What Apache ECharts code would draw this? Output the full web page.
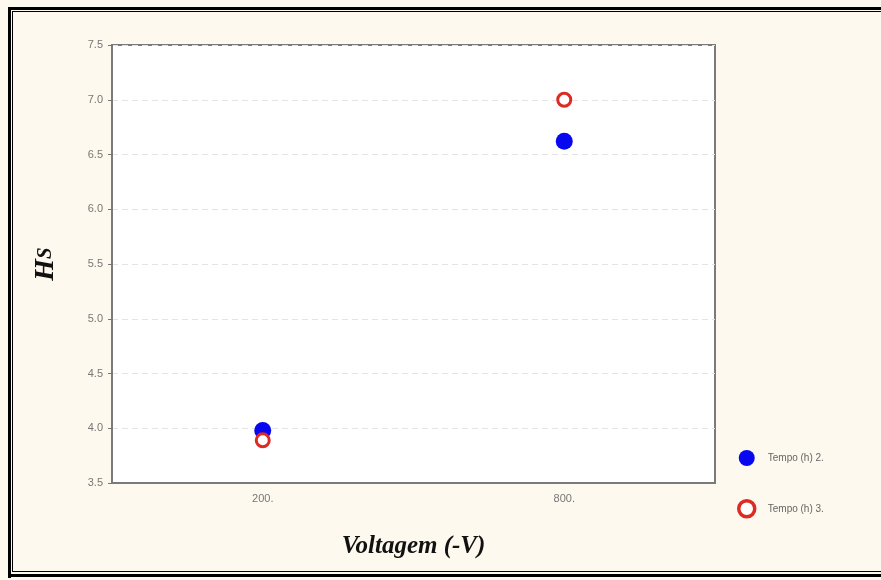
<!DOCTYPE html>
<html>
<head>
<meta charset="utf-8">
<script src="https://cdn.jsdelivr.net/npm/echarts@6/dist/echarts.min.js"></script>
<style>
  html, body { margin: 0; padding: 0; background: #fef9ee; }
  #chart { width: 881px; height: 580px; }
  .frame { position: absolute; pointer-events: none; }
</style>
</head>
<body>
<div id="chart"></div>
<script>
// categories (voltagem) and values (Hs) per series
const voltagens = ['200.', '800.'];
const tempo2 = [3.98, 6.62];
const tempo3 = [3.89, 7.0];
const seriesNames = ['Tempo (h) 2.', 'Tempo (h) 3.'];

const chart = echarts.init(document.getElementById('chart'));

chart.setOption({
  backgroundColor: '#fef9ee',
  animation: false,
  grid: {
    left: 112, top: 45, right: 166, bottom: 97,
    show: true,
    backgroundColor: '#ffffff',
    borderColor: '#7a7a7a',
    borderWidth: 2
  },
  legend: {
    orient: 'vertical',
    left: 732,
    top: 445,
    itemGap: 33,
    itemWidth: 16,
    itemHeight: 16,
    textStyle: { color: '#666', fontSize: 10, fontFamily: 'Liberation Sans', padding: [0, 0, 4, 8] },
    data: [
      { name: seriesNames[0] },
      { name: seriesNames[1], itemStyle: { color: '#ffffff', borderColor: '#dd2a22', borderWidth: 3.5 } }
    ]
  },
  xAxis: {
    type: 'category',
    data: voltagens,
    boundaryGap: true,
    name: 'Voltagem (-V)',
    nameLocation: 'middle',
    nameGap: 51,
    nameTextStyle: {
      fontFamily: 'Liberation Serif', fontStyle: 'italic', fontWeight: 'bold',
      fontSize: 25, color: '#111'
    },
    axisLine: { lineStyle: { color: '#7a7a7a', width: 2 } },
    axisTick: { alignWithLabel: true, length: 4, lineStyle: { color: '#777' } },
    axisLabel: { color: '#777', fontSize: 11, fontFamily: 'Liberation Sans', margin: 10 },
    splitLine: { show: false }
  },
  yAxis: {
    type: 'value',
    min: 3.5, max: 7.5, interval: 0.5,
    name: '{h|H}{s|S}',
    nameLocation: 'middle',
    nameGap: 52,
    nameRotate: 90,
    nameTextStyle: {
      rich: {
        h: { fontFamily: 'Liberation Serif', fontStyle: 'italic', fontWeight: 'bold', fontSize: 28, color: '#111' },
        s: { fontFamily: 'Liberation Serif', fontStyle: 'italic', fontWeight: 'bold', fontSize: 21, color: '#111' }
      }
    },
    axisLine: { show: true, lineStyle: { color: '#7a7a7a', width: 2 } },
    axisTick: { show: true, length: 4, lineStyle: { color: '#777' } },
    axisLabel: {
      color: '#777', fontSize: 11, fontFamily: 'Liberation Sans', margin: 9,
      formatter: v => v.toFixed(1)
    },
    splitLine: { lineStyle: { color: '#e4e4e4', type: [6, 4], width: 1 } }
  },
  series: [
    {
      name: seriesNames[0],
      type: 'scatter',
      data: tempo2,
      symbol: 'circle',
      symbolSize: 17,
      itemStyle: { color: '#0808f0', opacity: 1 },
      z: 2
    },
    {
      name: seriesNames[1],
      type: 'scatter',
      data: tempo3,
      symbol: 'circle',
      symbolSize: 13,
      itemStyle: { color: '#ffffff', borderColor: '#dd2a22', borderWidth: 3, opacity: 1 },
      z: 3
    }
  ]
});
</script>
<div class="frame" style="left:8px; top:7px; width:873px; height:0; border-top:3px solid #000;"></div>
<div class="frame" style="left:12px; top:11px; width:869px; height:0; border-top:1px solid #000;"></div>
<div class="frame" style="left:8px; top:7px; width:0; height:571px; border-left:3px solid #000;"></div>
<div class="frame" style="left:12px; top:11px; width:0; height:561px; border-left:1px solid #000;"></div>
<div class="frame" style="left:12px; top:571px; width:869px; height:0; border-top:1px solid #000;"></div>
<div class="frame" style="left:8px; top:574px; width:873px; height:0; border-top:3px solid #000;"></div>
</body>
</html>
